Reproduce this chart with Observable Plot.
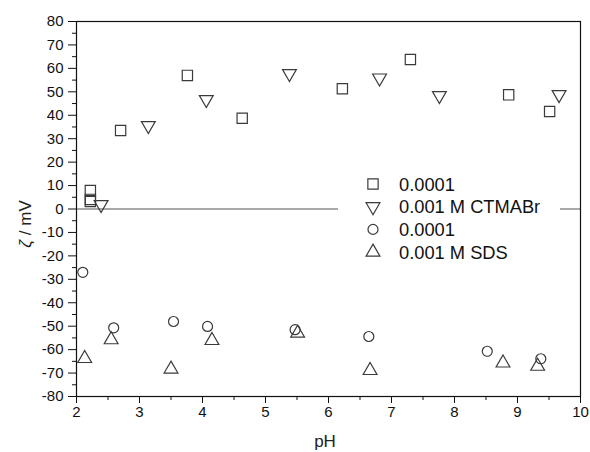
<!DOCTYPE html>
<html>
<head>
<meta charset="utf-8">
<script src="https://cdn.jsdelivr.net/npm/d3@7"></script>
<script src="https://cdn.jsdelivr.net/npm/@observablehq/plot@0.6"></script>
<style>
  body { margin: 0; background: #fff; font-family: "Liberation Sans", Arial, sans-serif; }
  #chart { position: relative; width: 590px; height: 452px; }
  #legend { position: absolute; left: 338px; top: 165px; background: #fff; }
</style>
</head>
<body>
<div id="chart"></div>
<script>
// Zeta potential against pH for two surfactant concentrations each
const seriesNames = ["0.0001", "0.001 M CTMABr", "0.0001", "0.001 M SDS"];

const ctmabLowPH   = [2.22, 2.22, 2.22, 2.70, 3.76, 4.63, 6.22, 7.30, 8.86, 9.51];
const ctmabLowZeta = [7.9, 4.1, 3.2, 33.5, 57.0, 38.7, 51.3, 63.8, 48.7, 41.6];

const ctmabHighPH   = [2.39, 3.14, 4.06, 5.38, 6.81, 7.76, 9.66];
const ctmabHighZeta = [1.9, 35.6, 46.7, 57.8, 55.9, 48.4, 48.8];

const sdsLowPH   = [2.10, 2.59, 3.54, 4.08, 5.47, 6.64, 8.52, 9.37];
const sdsLowZeta = [-27.0, -50.7, -48.0, -50.1, -51.5, -54.4, -60.7, -63.9];

const sdsHighPH   = [2.13, 2.55, 3.50, 4.15, 5.51, 6.66, 8.77, 9.32];
const sdsHighZeta = [-63.8, -55.8, -68.3, -56.1, -53.0, -68.9, -65.7, -67.1];

const xTickValues = [2, 3, 4, 5, 6, 7, 8, 9, 10];
const xMinorValues = [2.5, 3.5, 4.5, 5.5, 6.5, 7.5, 8.5, 9.5];
const yTickValues = [-80, -70, -60, -50, -40, -30, -20, -10, 0, 10, 20, 30, 40, 50, 60, 70, 80];
const yMinorValues = [-75, -65, -55, -45, -35, -25, -15, -5, 5, 15, 25, 35, 45, 55, 65, 75];

// Marker style per series (open symbols)
const markerStyles = [
  { symbol: "square", r: 5.8, rotate: 0 },
  { symbol: "triangle2", r: 6.6, rotate: 180 },
  { symbol: "circle", r: 5, rotate: 0 },
  { symbol: "triangle2", r: 6.6, rotate: 0 }
];
const d3Symbols = { square: d3.symbolSquare, triangle2: d3.symbolTriangle2, circle: d3.symbolCircle };
const ink = "#3a3a3a";

const seriesData = [
  d3.zip(ctmabLowPH, ctmabLowZeta),
  d3.zip(ctmabHighPH, ctmabHighZeta),
  d3.zip(sdsLowPH, sdsLowZeta),
  d3.zip(sdsHighPH, sdsHighZeta)
];

const dotMarks = seriesData.map((rows, i) =>
  Plot.dot(rows, {
    x: d => d[0],
    y: d => d[1],
    symbol: markerStyles[i].symbol,
    r: markerStyles[i].r,
    rotate: markerStyles[i].rotate,
    fill: "none",
    stroke: ink,
    strokeWidth: 1.2
  })
);

const plot = Plot.plot({
  width: 590,
  height: 452,
  marginLeft: 76,
  marginRight: 10,
  marginTop: 21,
  marginBottom: 56,
  style: { fontFamily: "Liberation Sans, Arial, sans-serif", fontSize: "15px", color: "#111", background: "#fff" },
  x: { domain: [2, 10] },
  y: { domain: [-80, 80] },
  marks: [
    Plot.ruleY([0], { stroke: "#555", strokeWidth: 1.2 }),
    Plot.frame({ stroke: "#111", strokeWidth: 1.2 }),
    Plot.axisX(xTickValues, { tickSize: 7, tickPadding: 3, label: null, tickFormat: d => String(d) }),
    Plot.axisX(xMinorValues, { tickSize: 4, label: null, tickFormat: () => "" }),
    Plot.axisY(yTickValues, { tickSize: 8, tickPadding: 5, label: null, tickFormat: d => String(d) }),
    Plot.axisY(yMinorValues, { tickSize: 4, label: null, tickFormat: () => "" }),
    ...dotMarks
  ]
});

const svg = d3.select(plot);

// Axis titles
svg.append("text")
  .attr("x", 325).attr("y", 447)
  .attr("text-anchor", "middle")
  .attr("font-size", 17)
  .attr("fill", "#222")
  .text("pH");

const yTitle = svg.append("text")
  .attr("transform", "translate(31,224) rotate(-90)")
  .attr("text-anchor", "middle")
  .attr("font-size", 17)
  .attr("fill", "#222");
yTitle.append("tspan").attr("font-style", "italic").text("ζ");
yTitle.append("tspan").text(" / mV");

document.getElementById("chart").appendChild(plot);

// Legend box drawn over the plot area
const legend = d3.select("#chart").append("svg")
  .attr("id", "legend")
  .attr("width", 222)
  .attr("height", 98);

seriesNames.forEach((name, i) => {
  const m = markerStyles[i];
  const cy = 19 + i * 22.7;
  legend.append("path")
    .attr("d", d3.symbol(d3Symbols[m.symbol], Math.PI * m.r * m.r)())
    .attr("transform", `translate(35,${cy}) rotate(${m.rotate})`)
    .attr("fill", "none")
    .attr("stroke", ink)
    .attr("stroke-width", 1.2);
  legend.append("text")
    .attr("x", 61).attr("y", cy)
    .attr("dy", "0.36em")
    .attr("font-size", 18.3)
    .attr("fill", "#111")
    .text(name);
});
</script>
</body>
</html>
